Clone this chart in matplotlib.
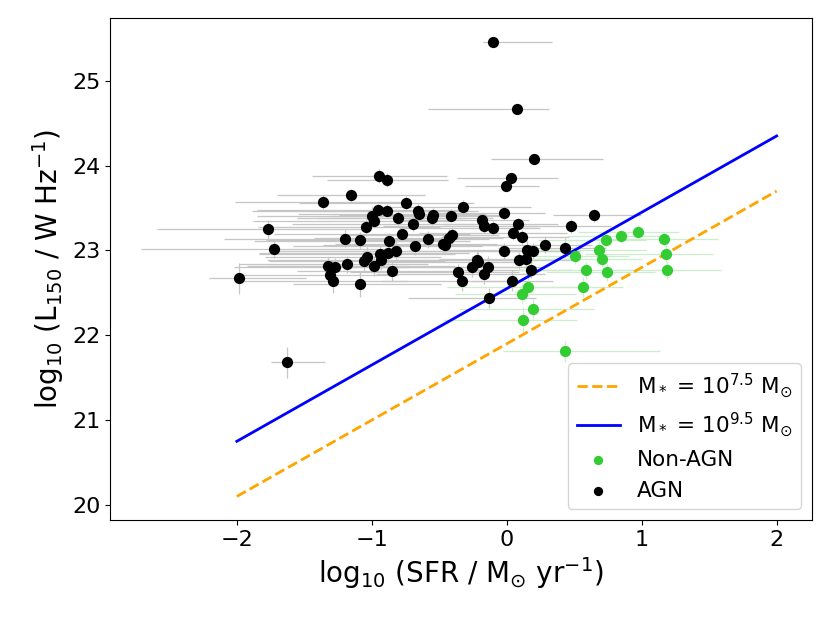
import numpy as np
import matplotlib
matplotlib.use("Agg")
import matplotlib.pyplot as plt

# AGN sample: log SFR, log L150, asymmetric x errors, y errors
agn_sfr = [-1.768, -1.728, -1.987, -1.63, -1.365, -1.156, -1.195, -1.087, -1.326, -1.274,
           -1.185, -1.307, -1.287, -0.946, -0.884, -0.743, -0.953, -0.884, -1.002, -0.98,
           -0.805, -0.661, -0.650, -0.546, -0.553, -0.41, -0.322, -0.693, -1.044, -0.773,
           -0.874, -0.681, -0.583, -0.472, -0.459, -0.431, -0.404, -1.084, -1.061, -1.039,
           -0.987, -0.936, -0.93, -0.883, -0.822, -0.853, -0.361, -0.331, -0.261, -0.217,
           -0.21, -0.17, -0.139, -0.183, -0.17, -0.1, -0.02, -0.009, 0.03, 0.202,
           -0.02, 0.042, 0.05, 0.113, 0.08, 0.152, 0.195, 0.091, 0.146, 0.181,
           0.283, 0.432, 0.473, -0.131, -0.104, 0.074, 0.644]
agn_lum = [23.25, 23.015, 22.67, 21.68, 23.57, 23.65, 23.14, 23.12, 22.82, 22.81,
           22.84, 22.705, 22.645, 23.876, 23.83, 23.56, 23.48, 23.47, 23.41, 23.35,
           23.385, 23.47, 23.43, 23.42, 23.385, 23.41, 23.51, 23.31, 23.275, 23.2,
           23.11, 23.047, 23.13, 23.08, 23.06, 23.15, 23.18, 22.607, 22.88, 22.92,
           22.82, 22.96, 22.89, 22.97, 22.99, 22.76, 22.744, 22.638, 22.81, 22.89,
           22.86, 22.725, 22.81, 23.354, 23.287, 23.263, 23.445, 23.755, 23.857, 24.08,
           22.99, 22.646, 23.204, 23.157, 23.307, 23.008, 22.992, 22.882, 22.902, 22.774,
           23.067, 23.032, 23.287, 22.442, 25.453, 24.665, 23.413]
agn_xlo = [0.82, 0.98, 0.22, 0.12, 0.65, 0.55, 0.9, 0.7, 0.6, 0.75,
           0.8, 0.65, 0.7, 0.5, 0.45, 0.8, 0.9, 1.0, 0.85, 0.9,
           0.75, 0.8, 0.9, 0.7, 0.85, 0.9, 0.6, 0.9, 0.8, 0.95,
           1.0, 0.9, 0.85, 0.8, 0.9, 1.0, 0.8, 0.5, 0.7, 0.75,
           0.8, 0.9, 0.85, 0.95, 0.9, 0.7, 0.8, 0.6, 0.9, 0.85,
           0.7, 0.8, 0.9, 0.6, 0.75, 0.7, 0.5, 0.3, 0.4, 0.32,
           0.8, 0.3, 0.7, 0.6, 0.55, 0.6, 0.7, 0.6, 0.65, 0.5,
           0.7, 0.5, 0.4, 0.6, 0.07, 0.66, 0.3]
agn_xhi = [0.7, 0.9, 0.5, 0.28, 0.6, 0.55, 0.7, 0.65, 0.6, 0.55,
           0.6, 0.5, 0.55, 0.5, 0.45, 0.5, 0.6, 0.55, 0.6, 0.55,
           0.5, 0.45, 0.5, 0.5, 0.45, 0.4, 0.5, 0.45, 0.55, 0.5,
           0.6, 0.5, 0.45, 0.4, 0.45, 0.4, 0.35, 0.6, 0.6, 0.55,
           0.6, 0.55, 0.5, 0.6, 0.55, 0.5, 0.45, 0.4, 0.5, 0.45,
           0.4, 0.45, 0.4, 0.35, 0.4, 0.35, 0.3, 0.25, 0.35, 0.51,
           0.45, 0.3, 0.4, 0.35, 0.3, 0.4, 0.35, 0.4, 0.35, 0.3,
           0.35, 0.3, 0.3, 0.35, 0.44, 0.24, 0.35]
agn_yerr = [0.11, 0.1, 0.18, 0.18, 0.08, 0.08, 0.1, 0.1, 0.1, 0.1,
            0.1, 0.1, 0.15, 0.08, 0.08, 0.08, 0.08, 0.08, 0.1, 0.08,
            0.08, 0.08, 0.08, 0.08, 0.08, 0.08, 0.08, 0.08, 0.1, 0.08,
            0.1, 0.1, 0.1, 0.1, 0.1, 0.1, 0.1, 0.15, 0.12, 0.12,
            0.12, 0.12, 0.12, 0.12, 0.12, 0.12, 0.1, 0.12, 0.12, 0.12,
            0.12, 0.12, 0.12, 0.08, 0.08, 0.08, 0.08, 0.05, 0.05, 0.05,
            0.1, 0.12, 0.08, 0.08, 0.08, 0.1, 0.1, 0.1, 0.1, 0.1,
            0.1, 0.12, 0.08, 0.12, 0.03, 0.03, 0.08]

# Non-AGN sample
sf_sfr = [0.504, 0.733, 0.844, 0.976, 1.165, 1.178, 1.185, 0.684, 0.704, 0.584,
          0.746, 0.563, 0.161, 0.113, 0.193, 0.124, 0.432]
sf_lum = [22.94, 23.126, 23.165, 23.216, 23.138, 22.96, 22.764, 23.0, 22.902, 22.764,
          22.744, 22.567, 22.575, 22.489, 22.312, 22.183, 21.809]
sf_xlo = [0.45, 0.5, 0.4, 0.45, 0.5, 0.6, 0.5, 0.5, 0.55, 0.5,
          0.45, 0.4, 0.6, 0.5, 0.55, 0.6, 0.46]
sf_xhi = [0.4, 0.3, 0.35, 0.3, 0.4, 0.35, 0.4, 0.35, 0.3, 0.35,
          0.35, 0.3, 0.45, 0.4, 0.45, 0.4, 0.7]
sf_yerr = [0.1, 0.08, 0.08, 0.08, 0.08, 0.1, 0.1, 0.1, 0.1, 0.1,
           0.1, 0.12, 0.12, 0.12, 0.12, 0.15, 0.12]

# relation lines  L = slope*logSFR + intercept
line_sfr = [-2, 2]
slope = 0.9
icpt_75 = 21.9
icpt_95 = 22.55

fig = plt.figure(figsize=(8.3, 6.23), dpi=100)
ax = fig.add_axes([0.1325, 0.165, 0.8455, 0.806])

ax.errorbar(agn_sfr, agn_lum, xerr=[agn_xlo, agn_xhi], yerr=agn_yerr, fmt='none',
            ecolor='#c6c6c6', elinewidth=0.9, zorder=1)
ax.errorbar(sf_sfr, sf_lum, xerr=[sf_xlo, sf_xhi], yerr=sf_yerr, fmt='none',
            ecolor='#cdeecd', elinewidth=0.9, zorder=1)

xs = np.array(line_sfr)
ax.plot(xs, slope * xs + icpt_75, '--', color='orange', lw=2,
        label=r'M$_*$ = 10$^{7.5}$ M$_{\odot}$', zorder=2)
ax.plot(xs, slope * xs + icpt_95, '-', color='blue', lw=2,
        label=r'M$_*$ = 10$^{9.5}$ M$_{\odot}$', zorder=2)

ax.scatter(sf_sfr, sf_lum, s=50, color='#33cc33', label='Non-AGN', zorder=3)
ax.scatter(agn_sfr, agn_lum, s=50, color='black', label='AGN', zorder=3)

ax.set_xlim(-2.94, 2.26)
ax.set_ylim(19.82, 25.74)
ax.set_xticks([-2, -1, 0, 1, 2])
ax.set_yticks([20, 21, 22, 23, 24, 25])
ax.tick_params(labelsize=16)
ax.set_xlabel(r'log$_{10}$ (SFR / M$_{\odot}$ yr$^{-1}$)', fontsize=20)
ax.set_ylabel(r'log$_{10}$ (L$_{150}$ / W Hz$^{-1}$)', fontsize=20)
ax.legend(loc='lower right', fontsize=15.5, markerscale=0.8)

fig.savefig('out.png', dpi=100)
